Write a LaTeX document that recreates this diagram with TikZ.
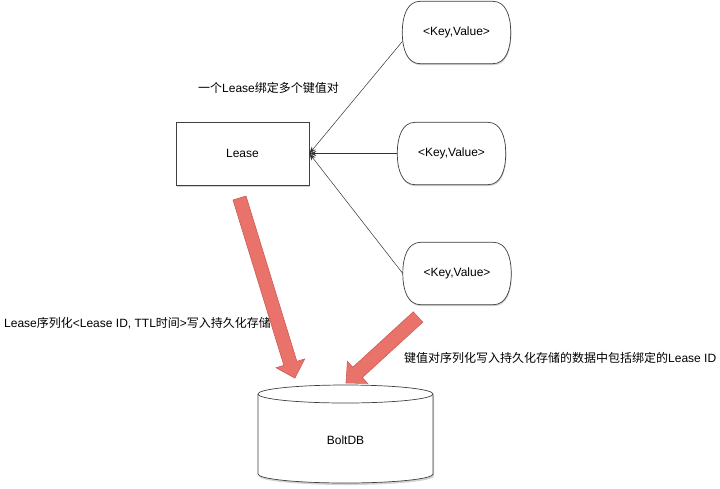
\documentclass[tikz,border=0pt]{standalone}
\usepackage{fontspec}
\setmainfont{Liberation Sans}
\newfontfamily\cjk{Noto Sans CJK SC}
\usetikzlibrary{calc,arrows.meta,shadows}
\definecolor{salmon}{RGB}{233,115,107}
\definecolor{salmonedge}{RGB}{205,92,85}
\tikzset{
  lbl/.style={font=\fontsize{12}{14}\selectfont, inner sep=0pt, anchor=west},
  boxtxt/.style={font=\fontsize{12}{14}\selectfont},
  leasebox/.style={draw=black!75, line width=0.7pt, fill=white, minimum width=133pt, minimum height=63pt,
    drop shadow={shadow xshift=0.6pt, shadow yshift=-1.5pt, opacity=0.35}},
  kvnode/.style={draw=none, minimum width=108pt, minimum height=62pt, font=\fontsize{12}{14}\selectfont},
  kvline/.style={draw=black!75, line width=0.7pt, fill=white,
    drop shadow={shadow xshift=0.6pt, shadow yshift=-1.5pt, opacity=0.35}},
  link/.style={draw=black!80, line width=0.5pt, -{Stealth[length=7pt,width=5pt]}},
  bigarrow/.style={fill=salmon, draw=salmonedge, line width=0.6pt},
}
\newcommand\kvbox[1]{%
  \path[kvline] ($(#1.north west)+(18,0)$) -- ($(#1.north east)+(-18,0)$)
    .. controls ($(#1.north east)+(-5,0)$) and ($(#1.east)+(0,-17)$) .. (#1.east)
    .. controls ($(#1.east)+(0,17)$) and ($(#1.south east)+(-5,0)$) .. ($(#1.south east)+(-18,0)$)
    -- ($(#1.south west)+(18,0)$)
    .. controls ($(#1.south west)+(5,0)$) and ($(#1.west)+(0,17)$) .. (#1.west)
    .. controls ($(#1.west)+(0,-17)$) and ($(#1.north west)+(5,0)$) .. cycle;}
\begin{document}
\begin{tikzpicture}[x=1pt,y=-1pt]
\useasboundingbox (0,0) rectangle (720,488);
\fill[white] (0,0) rectangle (720,488);

% Lease box
\node[leasebox, boxtxt] (lease) at (242.5,153.5) {Lease};

% key-value nodes
\node[kvnode] (kv1) at (456.5,32.5) {};
\node[kvnode] (kv2) at (451.5,153.5) {};
\node[kvnode] (kv3) at (457,273.5) {};
\kvbox{kv1}\kvbox{kv2}\kvbox{kv3}
\node[kvnode] (kv1t) at (kv1) {<Key,Value>};
\node[kvnode] (kv2t) at (kv2) {<Key,Value>};
\node[kvnode] (kv3t) at (kv3) {<Key,Value>};

% connectors
\draw[link] ([yshift=-9pt]kv1.west) -- (lease.east);
\draw[link] (kv2.west) -- (lease.east);
\draw[link] (kv3.west) -- (lease.east);

% labels
\node[lbl] (l1) at (198,88) {{\cjk 一个}Lease{\cjk 绑定多个键值对}};
\node[lbl] (l2) at (4,323) {Lease{\cjk 序列化}<Lease ID, TTL{\cjk 时间}>{\cjk 写入持久化存储}};
\node[lbl] (l3) at (404,358) {{\cjk 键值对序列化写入持久化存储的数据中包括绑定的}Lease ID};

% BoltDB cylinder
\fill[black!35, opacity=0.5] (259,396) -- (259,476) arc[start angle=180,end angle=360,x radius=87.5pt,y radius=9pt] -- (434,396) -- cycle;
\path[fill=white] (258,394) -- (258,474) arc[start angle=180,end angle=360,x radius=87.5pt,y radius=9pt] -- (433,394) arc[start angle=0,end angle=180,x radius=87.5pt,y radius=9pt] -- cycle;
\draw[black!75, line width=0.7pt] (258,394) -- (258,474) arc[start angle=180,end angle=360,x radius=87.5pt,y radius=9pt] -- (433,394);
\draw[black!75, line width=0.7pt] (345.5,394) ellipse[x radius=87.5pt, y radius=9pt];
\node[boxtxt] (db) at (345.5,440) {BoltDB};

% big red arrows
\begin{scope}[shift={(239.5,198)}, rotate=-72.9]
  \draw[bigarrow] (0,-6.8) -- (173,-6.8) -- (173,-15) -- (188.4,0) -- (173,15) -- (173,6.8) -- (0,6.8) -- cycle;
\end{scope}
\begin{scope}[shift={(418,317)}, rotate=-137.5]
  \draw[bigarrow] (0,-7) -- (82,-7) -- (82,-15) -- (97.7,0) -- (82,15) -- (82,7) -- (0,7) -- cycle;
\end{scope}
\end{tikzpicture}
\end{document}
